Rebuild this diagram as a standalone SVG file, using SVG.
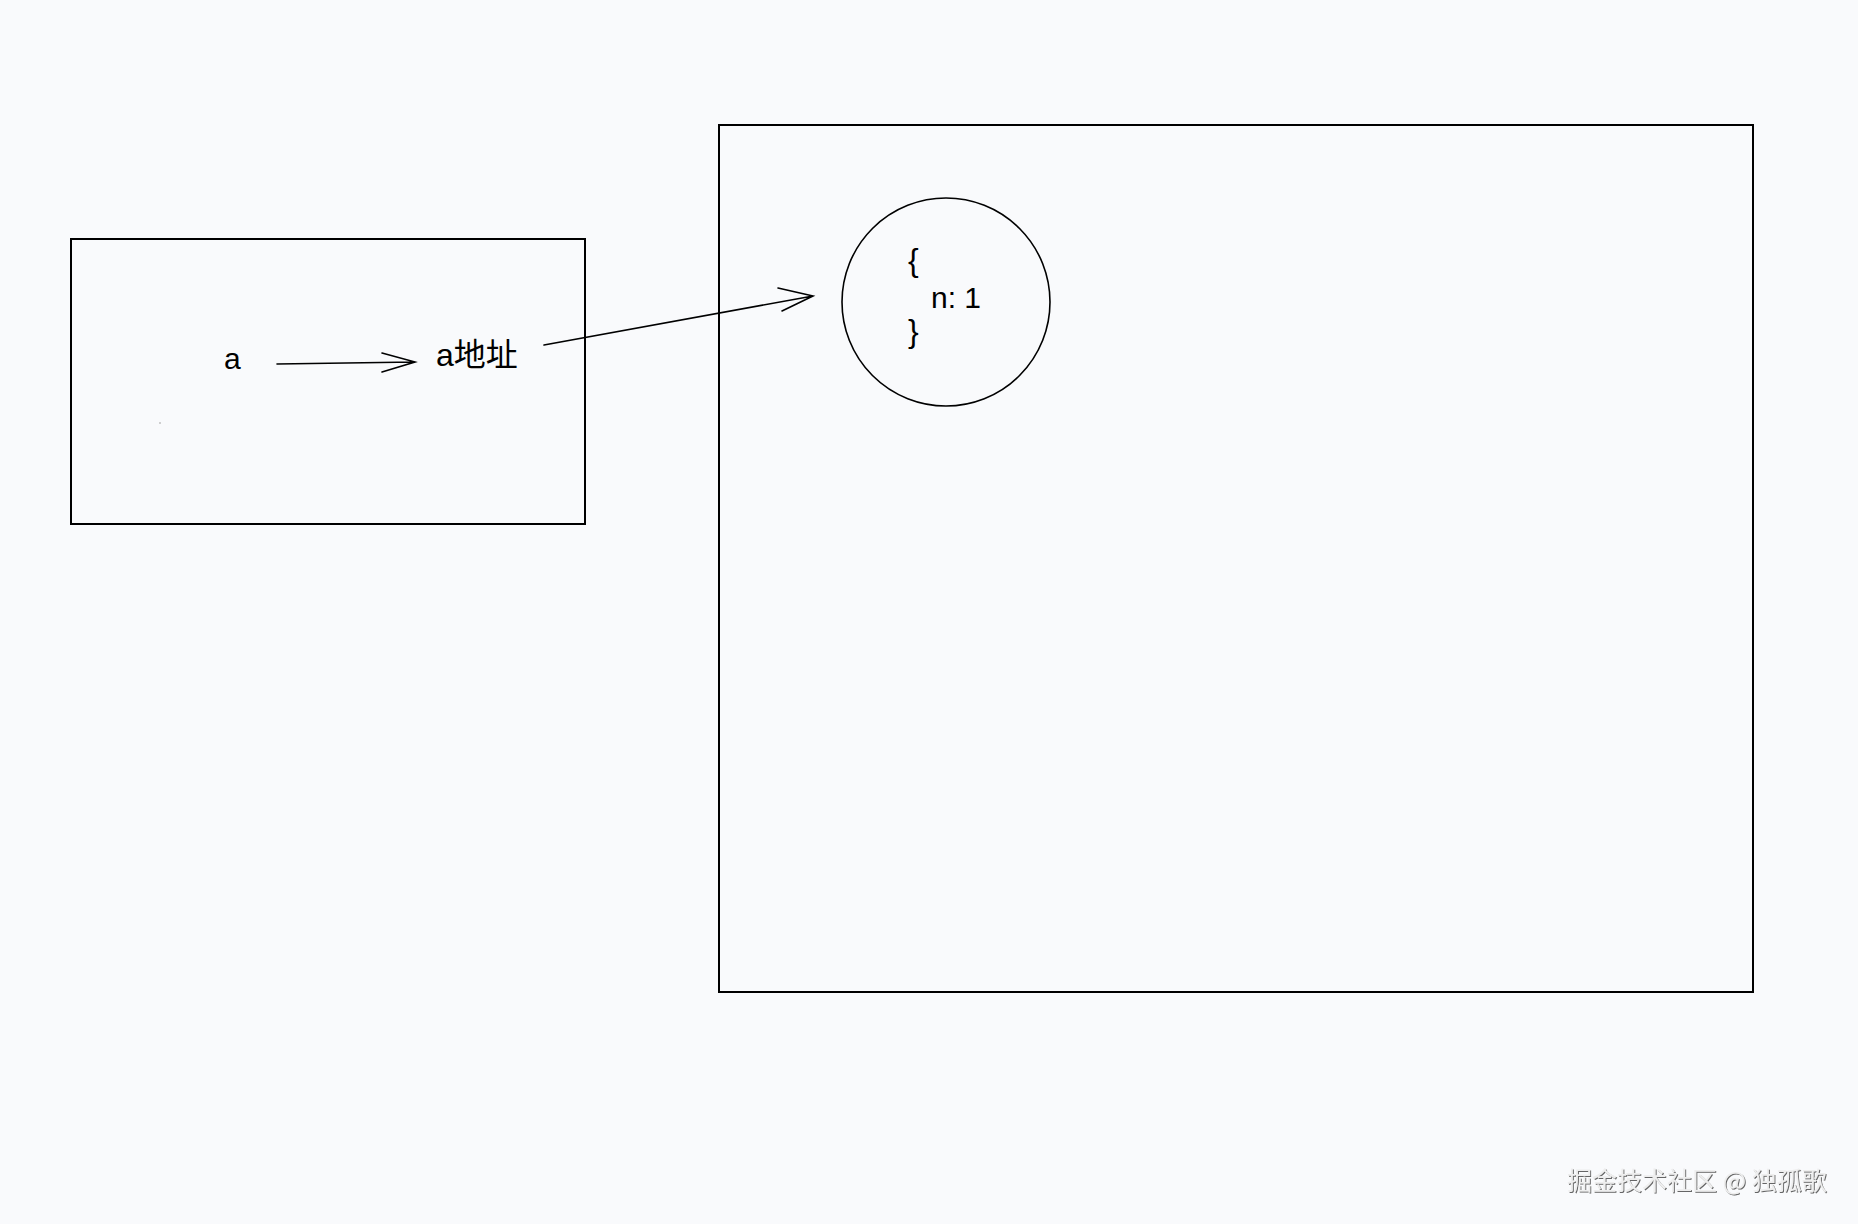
<svg xmlns="http://www.w3.org/2000/svg" width="1858" height="1224" viewBox="0 0 1858 1224">
<style>
.box{fill:none;stroke:#000;stroke-width:2}
.ln{fill:none;stroke:#000;stroke-width:1.6;stroke-linecap:round}
.t{font-family:"Liberation Sans","Noto Sans CJK SC",sans-serif;font-size:30px;fill:#000}
.wm{font-family:"Noto Sans CJK SC","Liberation Sans",sans-serif;font-size:25px;fill:#eeeeee}
</style>
<defs>
<filter id="emb" x="-5%" y="-20%" width="110%" height="140%">
<feDropShadow dx="1" dy="1" stdDeviation="0.6" flood-color="#555" flood-opacity="0.9"/>
</filter>
</defs>
<rect width="1858" height="1224" fill="#f9fafc"/>
<g id="heap">
<rect class="box" x="719" y="125" width="1034" height="867"/>
</g>
<g id="stack">
<rect class="box" x="71" y="239" width="514" height="285"/>
<circle cx="160" cy="423" r="0.8" fill="#999"/>
</g>
<g id="var-a">
<text class="t" x="224" y="369">a</text>
</g>
<g id="addr">
<text class="t" x="436" y="366" style="font-size:32px">a地址</text>
</g>
<g id="obj">
<circle cx="946" cy="302" r="104" fill="none" stroke="#000" stroke-width="1.6"/>
<text class="t" x="908" y="271" style="font-size:32px">{</text>
<text class="t" x="931" y="308">n: 1</text>
<text class="t" x="908" y="342" style="font-size:32px">}</text>
</g>
<g id="connectors">
<path class="ln" d="M277 364 L415 362 M382 353 L415 362 L382 372"/>
<path class="ln" d="M544 345 L813 296 M778 288 L813 296 L782 311"/>
</g>
<g id="watermark">
<text class="wm" x="1567" y="1190" filter="url(#emb)">掘金技术社区 @ 独孤歌</text>
</g>
</svg>
